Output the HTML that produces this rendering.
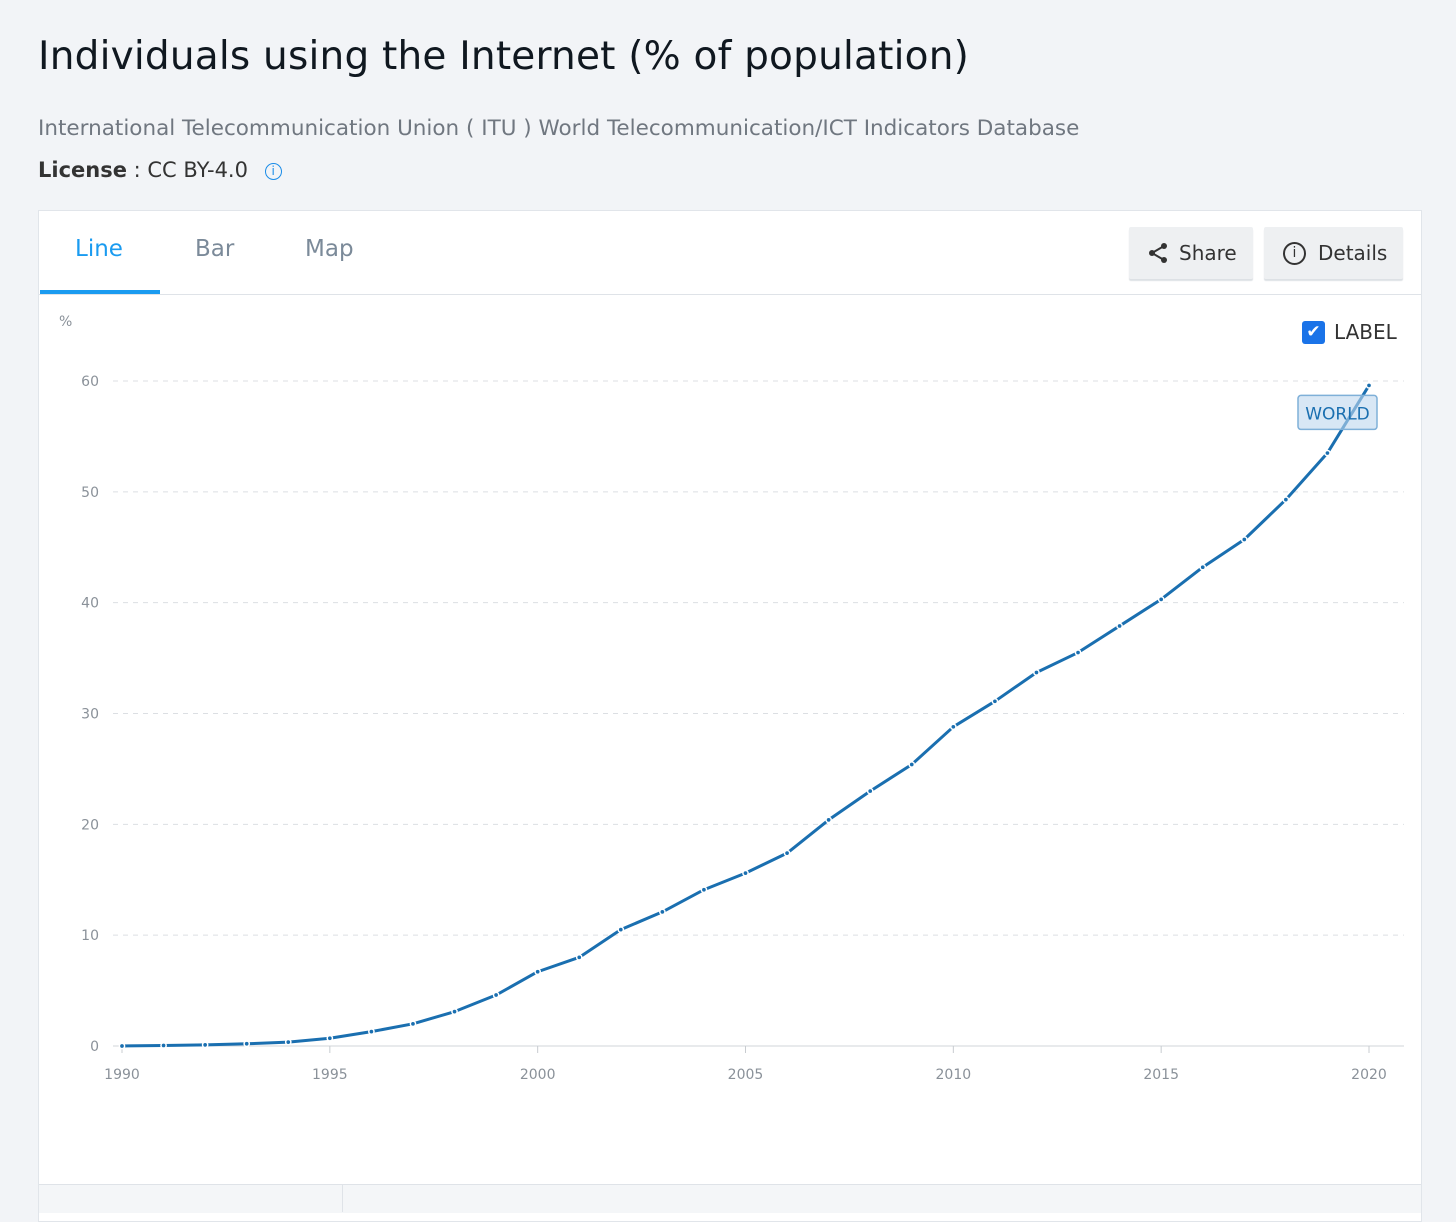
<!DOCTYPE html>
<html><head><meta charset="utf-8">
<style>
body{margin:0;width:1456px;height:1212px;background:#f2f4f7;font-family:"DejaVu Sans","Liberation Sans",sans-serif;overflow:hidden;position:relative;color:#1d2630}
.abs{position:absolute}
h1{position:absolute;left:38px;top:34px;margin:0;font-size:39px;font-weight:normal;color:#101820;letter-spacing:0.2px}
.btn{position:absolute;top:227px;height:52px;background:#eef0f2;border-radius:2px;box-shadow:0 2px 1px #dde1e5;font-size:20px;color:#333;display:flex;align-items:center}
</style></head><body>
<h1>Individuals using the Internet (% of population)</h1>
<div class="abs" style="left:38px;top:116px;font-size:21.5px;color:#707780">International Telecommunication Union ( ITU ) World Telecommunication/ICT Indicators Database</div>
<div class="abs" style="left:38px;top:158px;font-size:21px;color:#333"><b>License</b> : CC BY-4.0 <span style="display:inline-block;width:15px;height:15px;border:1.5px solid #1a8ce8;border-radius:50%;color:#1a8ce8;font-size:12px;text-align:center;line-height:15px;margin-left:10px;vertical-align:2px">i</span></div>

<div class="abs" style="left:38px;top:210px;width:1382px;height:1010px;background:#fff;border:1px solid #e1e5ea"></div>
<div class="abs" style="left:39px;top:294px;width:1382px;height:1px;background:#dfe3e8"></div>
<div class="abs" style="left:75px;top:236px;font-size:23px;color:#1a9bf0">Line</div>
<div class="abs" style="left:40px;top:290px;width:120px;height:4px;background:#1a9bf0"></div>
<div class="abs" style="left:195px;top:236px;font-size:23px;color:#7b8a99">Bar</div>
<div class="abs" style="left:305px;top:236px;font-size:23px;color:#7b8a99">Map</div>
<div class="btn" style="left:1129px;width:124px">
<svg width="22" height="22" style="margin:0 10px 0 18px" viewBox="0 0 22 22"><circle cx="17" cy="4" r="3" fill="#333"/><circle cx="5" cy="11" r="3" fill="#333"/><circle cx="17" cy="18" r="3" fill="#333"/><path d="M17 4L5 11L17 18" stroke="#333" stroke-width="2" fill="none"/></svg>Share</div>
<div class="btn" style="left:1264px;width:139px">
<span style="display:inline-block;width:19px;height:19px;border:2px solid #333;border-radius:50%;text-align:center;line-height:19px;font-size:14px;margin:0 12px 0 19px">i</span>Details</div>

<div class="abs" style="left:1302px;top:320px;display:flex;align-items:center;font-size:20px;color:#333">
<span style="display:inline-block;width:23px;height:23px;background:#1a73e8;border-radius:3px;color:#fff;text-align:center;line-height:23px;font-size:17px;margin-right:9px">✔</span>LABEL</div>

<svg class="abs" style="left:0;top:0" width="1456" height="1212" id="chart"></svg>
<div class="abs" style="left:39px;top:1184px;width:1382px;height:28px;background:#f4f6f8;border-top:1px solid #dfe3e8"></div>
<div class="abs" style="left:342px;top:1185px;width:1px;height:27px;background:#dfe3e8"></div>

<script>
const years=[1990,1991,1992,1993,1994,1995,1996,1997,1998,1999,2000,2001,2002,2003,2004,2005,2006,2007,2008,2009,2010,2011,2012,2013,2014,2015,2016,2017,2018,2019,2020];
const values=[0.0,0.05,0.1,0.2,0.35,0.7,1.3,2.0,3.1,4.6,6.7,8.0,10.5,12.1,14.1,15.6,17.4,20.4,23.0,25.4,28.8,31.1,33.7,35.5,37.9,40.3,43.2,45.7,49.3,53.5,59.6];
const yTicks=[0,10,20,30,40,50,60];
const xTicks=[1990,1995,2000,2005,2010,2015,2020];
const seriesLabel="WORLD";
const NS="http://www.w3.org/2000/svg";
const svg=document.getElementById('chart');
const FONT='DejaVu Sans, Liberation Sans, sans-serif';
const X=v=>122+(v-1990)*(1369-122)/30;
const Y=v=>1046-v*(1046-381)/60;
function mk(t,a){const e=document.createElementNS(NS,t);for(const k in a)e.setAttribute(k,a[k]);svg.appendChild(e);return e;}
yTicks.forEach(t=>{
  const g=mk('line',{x1:113,x2:1404,y1:Y(t),y2:Y(t),stroke:t?'#dcdfe3':'#d0d4d8','stroke-dasharray':t?'5,5':'none'});
  
  
  const l=mk('text',{x:99,y:Y(t)+5,'text-anchor':'end','font-size':14,fill:'#8a9199','font-family':FONT});
  l.textContent=t;
  
  
});
const u=mk('text',{x:59,y:326,'font-size':14,fill:'#8a9199','font-family':FONT});u.textContent='%';


xTicks.forEach(t=>{
  const tk=mk('line',{x1:X(t),x2:X(t),y1:1046,y2:1053,stroke:'#c8ccd0'});
  
  
  const l=mk('text',{x:X(t),y:1079,'text-anchor':'middle','font-size':14,fill:'#8a9199','font-family':FONT});
  l.textContent=t;
  
  
});
const p=mk('polyline',{points:years.map((y,i)=>X(y)+','+Y(values[i])).join(' '),fill:'none',stroke:'#1a6fb0','stroke-width':3,'stroke-linejoin':'round'});


years.forEach((y,i)=>{
  const c=mk('circle',{cx:X(y),cy:Y(values[i]),r:2.6,fill:'#1a6fb0',stroke:'#fff','stroke-width':1.5});
  
  
});
const li=values.length-1, lx=X(years[li]), ly=Y(values[li]);
const r=mk('rect',{x:lx-71,y:ly+10,width:79,height:34,rx:3,fill:'rgba(190,215,238,0.6)',stroke:'#7fb0d8','stroke-width':1.5});


const lt=mk('text',{x:lx-31.5,y:ly+34,'text-anchor':'middle','font-size':17,fill:'#1a6fb0','font-family':FONT});
lt.textContent=seriesLabel;


</script>
</body></html>
